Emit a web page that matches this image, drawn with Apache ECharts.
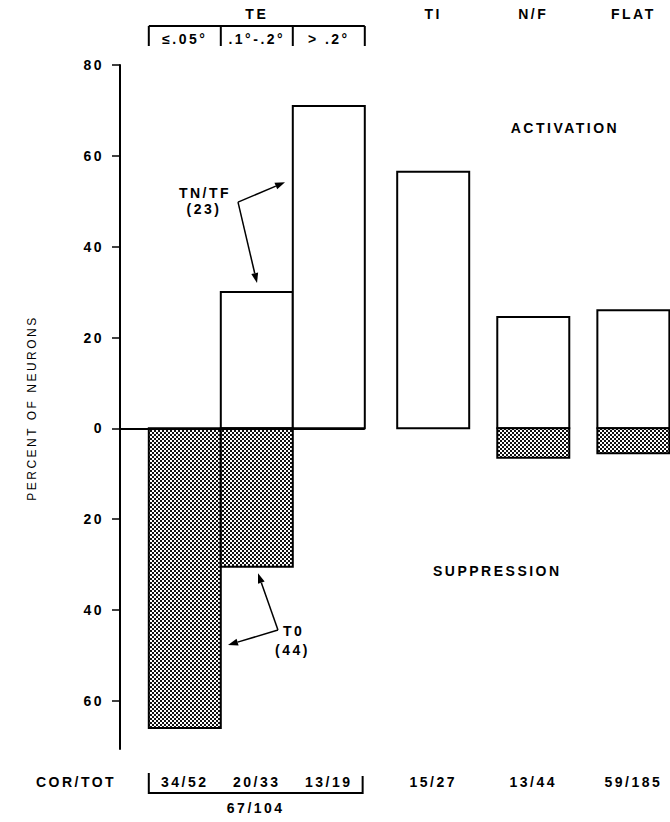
<!DOCTYPE html>
<html>
<head>
<meta charset="utf-8">
<script src="https://cdn.jsdelivr.net/npm/echarts@6/dist/echarts.min.js"></script>
<style>
  html, body { margin: 0; padding: 0; background: #fff; }
  #chart { width: 670px; height: 822px; }
  #chart text { letter-spacing: 2.5px; }
</style>
</head>
<body>
<div id="chart"></div>
<script>
// ---- data -------------------------------------------------------------
const groupNames = ['TE', 'TI', 'N/F', 'FLAT'];
const teBinLabels = ['\u2264.05\u00b0', '.1\u00b0-.2\u00b0', '> .2\u00b0'];
// percent of neurons per column: TE(≤.05°), TE(.1°-.2°), TE(>.2°), TI, N/F, FLAT
const activation = [0, 30, 71, 56.5, 24.5, 26];
const suppression = [-66, -30.5, 0, 0, -6.5, -5.5];
const corTot = ['34/52', '20/33', '13/19', '15/27', '13/44', '59/185'];
const teCorTot = '67/104';
const yTickValues = [80, 60, 40, 20, 0, -20, -40, -60];

// ---- layout (x in bar-width units) -------------------------------------
const barStart = [0.4, 1.4, 2.4, 3.85, 5.24, 6.63];
const barW = 1;
const FONT = 'Liberation Sans';

// stipple fill for the suppression bars
const tile = document.createElement('canvas');
tile.width = 4; tile.height = 4;
const tc = tile.getContext('2d');
tc.fillStyle = '#fff'; tc.fillRect(0, 0, 4, 4);
tc.fillStyle = '#111';
tc.fillRect(0, 0, 2, 2); tc.fillRect(2, 2, 2, 2);
const stipple = { image: tile, repeat: 'repeat', imageWidth: 4, imageHeight: 4 };

function barRenderer(fill) {
  return function (params, api) {
    const i = api.value(0), v = api.value(1);
    if (!v) return null;
    const a = api.coord([barStart[i], v]);
    const b = api.coord([barStart[i] + barW, 0]);
    return {
      type: 'rect',
      shape: { x: a[0], y: Math.min(a[1], b[1]), width: b[0] - a[0], height: Math.abs(b[1] - a[1]) },
      style: { fill: fill, stroke: '#000', lineWidth: 2 }
    };
  };
}

const chart = echarts.init(document.getElementById('chart'), null, { renderer: 'svg' });

chart.setOption({
  animation: false,
  backgroundColor: '#fff',
  grid: { left: 120, right: 0, top: 65, bottom: 73 },
  xAxis: { type: 'value', min: 0, max: 550 / 72, show: false },
  yAxis: {
    type: 'value', min: -70.6, max: 80,
    splitLine: { show: false },
    axisLine: { show: true, lineStyle: { color: '#000', width: 2 } },
    axisTick: { show: true, customValues: yTickValues, length: 8, lineStyle: { color: '#000', width: 1.5 } },
    axisLabel: {
      customValues: yTickValues, margin: 16,
      formatter: v => String(Math.abs(v)),
      color: '#000', fontFamily: FONT, fontSize: 14, fontWeight: 'bold'
    }
  },
  series: [
    {
      type: 'custom', name: 'activation',
      renderItem: barRenderer('#fff'),
      data: activation.map((v, i) => [i, v]),
      markLine: {
        silent: true, symbol: ['none', 'none'],
        label: { show: false },
        lineStyle: { color: '#000', width: 2, type: 'solid' },
        data: [[{ coord: [0, 0] }, { coord: [barStart[2] + barW, 0] }]]
      }
    },
    {
      type: 'custom', name: 'suppression',
      renderItem: barRenderer(stipple),
      data: suppression.map((v, i) => [i, v])
    }
  ]
});

// ---- labels, brackets and arrows ---------------------------------------
const px = (x, y) => chart.convertToPixel({ gridIndex: 0 }, [x, y]);
const xPx = x => px(x, 0)[0];
const g = [];

function text(str, x, y, opt) {
  opt = opt || {};
  g.push({
    type: 'text', x: x, y: y, rotation: opt.rotation || 0,
    style: {
      text: str, fill: '#000',
      font: (opt.weight || 'bold') + ' ' + (opt.size || 14) + 'px "' + FONT + '"',
      align: opt.align || 'center', verticalAlign: 'middle'
    }
  });
}
function line(points, w) {
  g.push({ type: 'polyline', shape: { points: points }, style: { stroke: '#000', lineWidth: w || 2, fill: null } });
}
function arrow(from, to) {
  const a = px(from[0], from[1]), b = px(to[0], to[1]);
  const dx = b[0] - a[0], dy = b[1] - a[1], len = Math.hypot(dx, dy);
  const ux = dx / len, uy = dy / len, L = 10, H = 3.5;
  const base = [b[0] - ux * L, b[1] - uy * L];
  line([a, base], 1.5);
  g.push({
    type: 'polygon',
    shape: { points: [b, [base[0] - uy * H, base[1] + ux * H], [base[0] + uy * H, base[1] - ux * H]] },
    style: { fill: '#000' }
  });
}

// column headers
const mid = i => xPx(barStart[i] + barW / 2);
text(groupNames[0], (xPx(barStart[0]) + xPx(barStart[2] + barW)) / 2, 14);
text(groupNames[1], mid(3), 14);
text(groupNames[2], mid(4), 14);
text(groupNames[3], mid(5), 14);

// TE bracket with its three bins
const edges = [barStart[0], barStart[1], barStart[2], barStart[2] + barW].map(xPx);
line([[edges[0], 26], [edges[3], 26]], 2);
edges.forEach(x => line([[x, 26], [x, 46]], 2));
teBinLabels.forEach((s, i) => text(s, (edges[i] + edges[i + 1]) / 2, 39));

// region labels
const act = px(6.18, 66.1), sup = px(5.24, -31.4);
text('ACTIVATION', act[0], act[1]);
text('SUPPRESSION', sup[0], sup[1]);

// y-axis title
text('PERCENT OF NEURONS', 32, 408, { rotation: Math.PI / 2, weight: 'normal', size: 12 });

// TN/TF callout
const tn = px(1.18, 51.8), tn2 = px(1.167, 48.3);
text('TN/TF', tn[0], tn[1]);
text('(23)', tn2[0], tn2[1]);
arrow([1.639, 49.8], [2.292, 54.2]);
arrow([1.639, 49.8], [1.903, 32.0]);

// T0 callout
const t0 = px(2.264, -44.6), t02 = px(2.153, -48.8);
text('T0', t0[0], t0[1], { align: 'left' });
text('(44)', t02[0], t02[1], { align: 'left' });
arrow([2.194, -44.4], [1.917, -31.9]);
arrow([2.194, -44.4], [1.5, -47.7]);

// COR/TOT row
const rowY = 782;
text('COR/TOT', 76, rowY);
corTot.forEach((s, i) => text(s, mid(i), rowY));
const bl = xPx(barStart[0]), br = xPx(3.37);
line([[bl, 773], [bl, 793], [br, 793], [br, 776]], 2);
text(teCorTot, (bl + br) / 2, 808);

chart.setOption({ graphic: { elements: g } });
</script>
</body>
</html>
